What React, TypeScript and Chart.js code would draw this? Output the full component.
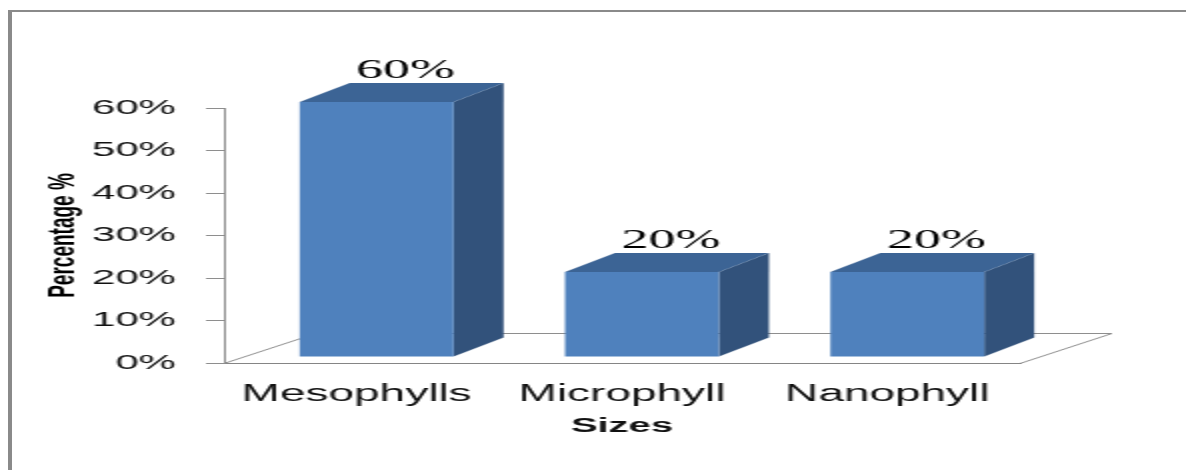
import React, { useEffect, useRef } from "react";
import { Chart, registerables } from "chart.js";

Chart.register(...registerables);

// ---- data ----
const categories = ["Mesophylls", "Microphyll", "Nanophyll"];
const percentages = [60, 20, 20];
const yTickValues = [0, 10, 20, 30, 40, 50, 60];
const xAxisTitle = "Sizes";
const yAxisTitle = "Percentage %";

// ---- styles (drawn in an unstretched space, then stretched 2x horizontally like the reference) ----
const STRETCH = 2;
const FRONT = "#4F81BD";
const TOP = "#3C6495";
const SIDE = "#32527B";
const LINE = "#8e8e8e";
const BAR_DX = 25;
const BAR_DY = -19;
const SHIFT_X = 10;
const SHIFT_Y = -6;
const FLOOR_DX = 46;
const FLOOR_DY = -30;

const box3d = {
  id: "box3d",
  beforeDatasetsDraw(chart: any) {
    const { ctx, chartArea } = chart;
    const { left, right, bottom } = chartArea;
    ctx.save();
    ctx.strokeStyle = LINE;
    ctx.lineWidth = 1;
    ctx.beginPath();
    ctx.moveTo(left, bottom + 0.5);
    ctx.lineTo(left + FLOOR_DX, bottom + FLOOR_DY + 0.5);
    ctx.lineTo(right + FLOOR_DX, bottom + FLOOR_DY + 0.5);
    ctx.lineTo(right, bottom + 0.5);
    ctx.stroke();
    ctx.restore();

    ctx.save();
    ctx.translate(SHIFT_X, SHIFT_Y);
    const meta = chart.getDatasetMeta(0);
    meta.data.forEach((el: any) => {
      const { x, y, base, width } = el.getProps(["x", "y", "base", "width"], true);
      const x0 = x - width / 2;
      const x1 = x + width / 2;
      // side face
      ctx.fillStyle = SIDE;
      ctx.beginPath();
      ctx.moveTo(x1, y);
      ctx.lineTo(x1 + BAR_DX, y + BAR_DY);
      ctx.lineTo(x1 + BAR_DX, base + BAR_DY);
      ctx.lineTo(x1, base);
      ctx.closePath();
      ctx.fill();
      // top face
      ctx.fillStyle = TOP;
      ctx.beginPath();
      ctx.moveTo(x0, y);
      ctx.lineTo(x0 + BAR_DX, y + BAR_DY);
      ctx.lineTo(x1 + BAR_DX, y + BAR_DY);
      ctx.lineTo(x1, y);
      ctx.closePath();
      ctx.fill();
    });
    // keep translation for native front faces; restored after datasets draw
  },
  afterDatasetsDraw(chart: any) {
    const { ctx } = chart;
    ctx.restore();
    const meta = chart.getDatasetMeta(0);
    const values = chart.data.datasets[0].data;
    ctx.save();
    ctx.fillStyle = "#000";
    ctx.font = "27px 'Liberation Serif', serif";
    ctx.textAlign = "center";
    ctx.textBaseline = "alphabetic";
    meta.data.forEach((el: any, i: number) => {
      const { x, y } = el.getProps(["x", "y"], true);
      ctx.fillText(`${values[i]}%`, x + SHIFT_X + BAR_DX / 2 + 2, y + SHIFT_Y + BAR_DY - 5);
    });
    ctx.restore();
  },
};

export default function App() {
  const canvasRef = useRef<HTMLCanvasElement | null>(null);

  useEffect(() => {
    const canvas = canvasRef.current;
    if (!canvas) return;
    const chart = new Chart(canvas, {
      type: "bar",
      data: {
        labels: categories,
        datasets: [
          {
            data: percentages,
            backgroundColor: FRONT,
            borderWidth: 0,
            barPercentage: 0.58,
            categoryPercentage: 1,
          },
        ],
      },
      plugins: [box3d],
      options: {
        animation: false,
        responsive: true,
        maintainAspectRatio: false,
        events: [],
        layout: { padding: { top: 108, right: 83, left: 0, bottom: 0 } },
        plugins: {
          legend: { display: false },
          tooltip: { enabled: false },
          title: { display: false },
        },
        scales: {
          x: {
            grid: { display: false, drawTicks: false },
            border: { display: true, color: "#858585", width: 1 },
            ticks: {
              color: "#111",
              padding: 18,
              font: { family: "'Liberation Sans', Arial, sans-serif", size: 23 },
              maxRotation: 0,
            },
            title: {
              display: true,
              text: xAxisTitle,
              color: "#111",
              font: { family: "'Liberation Sans', Arial, sans-serif", size: 20, weight: "bold" },
              padding: { top: 0, bottom: 32 },
            },
            afterFit(axis: any) {
              axis.height = 107;
            },
          },
          y: {
            min: 0,
            max: 60,
            grid: {
              drawOnChartArea: false,
              drawTicks: true,
              tickLength: 9,
              color: LINE,
            },
            border: { display: true, color: LINE, width: 1 },
            afterBuildTicks(axis: any) {
              axis.ticks = yTickValues.map((v) => ({ value: v }));
            },
            ticks: {
              color: "#111",
              padding: 15,
              font: { family: "'Liberation Sans', Arial, sans-serif", size: 21 },
              callback: (v: any) => `${v}%`,
            },
            title: {
              display: true,
              text: yAxisTitle,
              color: "#000",
              font: { family: "'Liberation Sans', Arial, sans-serif", size: 19, weight: "bold" },
              padding: { top: 20, bottom: 0 },
            },
            afterFit(axis: any) {
              axis.width = 112;
            },
          },
        },
      },
    });
    return () => chart.destroy();
  }, []);

  return (
    <div
      style={{
        position: "fixed",
        left: 0,
        top: 0,
        width: 1186,
        height: 470,
        overflow: "hidden",
        background: "#fff",
      }}
    >
      <div
        style={{
          position: "absolute",
          left: 0,
          top: 0,
          width: 1186 / STRETCH,
          height: 470,
          transform: `scaleX(${STRETCH})`,
          transformOrigin: "0 0",
        }}
      >
        <div
          style={{
            position: "absolute",
            left: 4,
            top: 10,
            width: 620,
            height: 480,
            borderTop: "2px solid #8a8a8a",
            borderLeft: "2px solid #8a8a8a",
          }}
        />
        <div style={{ position: "absolute", left: 0, top: 0, width: 1186 / STRETCH, height: 470 }}>
          <canvas ref={canvasRef} />
        </div>
      </div>
    </div>
  );
}
